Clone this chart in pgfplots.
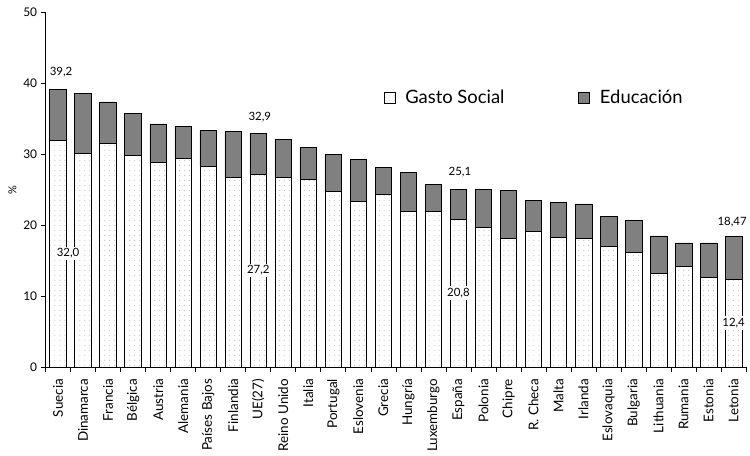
\documentclass[border=0pt]{standalone}
\usepackage{fontspec}
\setmainfont{Lato}
\usepackage{pgfplots}
\usepackage{pgfplotstable}
\pgfplotsset{compat=1.18}
\usetikzlibrary{patterns}

\definecolor{edu}{RGB}{128,128,128}
\definecolor{dotc}{RGB}{190,190,190}

% puntos claros y espaciados para el gasto social
\pgfdeclarepatternformonly{puntos}{\pgfqpoint{-1bp}{-1bp}}{\pgfqpoint{1bp}{1bp}}{\pgfqpoint{5bp}{5bp}}{%
  \pgfpathcircle{\pgfqpoint{0bp}{0bp}}{0.55bp}\pgfusepath{fill}}

% Gasto social y gasto en educacion (% del PIB)
\pgfplotstableread{
x gasto edu
0  32.0 7.2
1  30.1 8.5
2  31.6 5.8
3  29.8 6.0
4  28.9 5.4
5  29.5 4.5
6  28.3 5.1
7  26.8 6.4
8  27.2 5.7
9  26.8 5.3
10 26.5 4.5
11 24.8 5.2
12 23.4 5.9
13 24.3 3.8
14 22.0 5.4
15 22.0 3.8
16 20.8 4.3
17 19.7 5.3
18 18.2 6.7
19 19.2 4.3
20 18.3 4.9
21 18.2 4.8
22 17.0 4.2
23 16.2 4.5
24 13.2 5.3
25 14.2 3.3
26 12.6 4.9
27 12.4 6.07
}\datos

\tikzset{valor/.style={font=\fontsize{11.5}{13}\selectfont},
         valorin/.style={valor, fill=white, inner sep=2bp}}

\begin{document}
\begin{tikzpicture}
\begin{axis}[
  name=ax,
  scale only axis, width=702bp, height=355bp,
  ybar stacked, bar width=16.7bp,
  xmin=-0.5, xmax=27.5, ymin=0, ymax=50,
  axis x line*=bottom, axis y line*=left,
  axis line style={black, line width=0.8bp},
  xtick={-0.5,0.5,...,27.5},
  x tick label as interval,
  xticklabels={Suecia,Dinamarca,Francia,Bélgica,Austria,Alemania,Países Bajos,Finlandia,UE(27),Reino Unido,Italia,Portugal,Eslovenia,Grecia,Hungría,Luxemburgo,España,Polonia,Chipre,R. Checa,Malta,Irlanda,Eslovaquia,Bulgaria,Lithuania,Rumania,Estonia,Letonia},
  xticklabel style={rotate=90, anchor=east, font=\fontsize{13.5}{15}\selectfont, inner sep=2bp},
  xticklabel shift=5bp,
  ytick={0,10,...,50},
  yticklabel style={font=\fontsize{12}{14}\selectfont},
  /pgf/number format/assume math mode=true,
  tick align=outside, major tick length=5bp,
  tick style={black, line width=0.7bp},
  ylabel={\%},
  ylabel style={font=\fontsize{11}{13}\selectfont},
  clip=false,
  legend columns=2,
  legend style={at={(rel axis cs:0.478,0.76)}, anchor=west, draw=none, fill=none,
    font=\fontsize{18.5}{21}\selectfont,
    /tikz/every odd column/.append style={column sep=8bp},
    /tikz/every even column/.append style={column sep=72bp}},
  legend image code/.code={\draw[#1] (0bp,-5.5bp) rectangle (11bp,5.5bp);},
]
\addplot[draw=black, line width=0.7bp, pattern=puntos, pattern color=dotc]
  table[x=x, y=gasto]{\datos};
\addplot[draw=black, line width=0.7bp, fill=edu]
  table[x=x, y=edu]{\datos};
\legend{Gasto Social, Educación}

% posiciones de los valores destacados
\coordinate (t0) at (axis cs:0,41.6);
\coordinate (t8) at (axis cs:8,35.2);
\coordinate (t16) at (axis cs:16,27.5);
\coordinate (t27) at (axis cs:27,20.5);
\coordinate (b0) at (axis cs:0,16.0);
\coordinate (b8) at (axis cs:8,13.6);
\coordinate (b16) at (axis cs:16,10.4);
\coordinate (b27) at (axis cs:27,6.2);
\end{axis}
\node[valor, xshift=3bp] at (t0) {39,2};
\node[valor, xshift=1.5bp] at (t8) {32,9};
\node[valor, xshift=1.5bp] at (t16) {25,1};
\node[valor, xshift=-1.5bp] at (t27) {18,47};
\node[valorin, xshift=10bp] at (b0) {32,0};
\node[valorin] at (b8) {27,2};
\node[valorin] at (b16) {20,8};
\node[valorin] at (b27) {12,4};
\path ([shift={(-45.7bp,-88.3bp)}]ax.south west) rectangle ([shift={(2bp,12.7bp)}]ax.north east);
\end{tikzpicture}
\end{document}
